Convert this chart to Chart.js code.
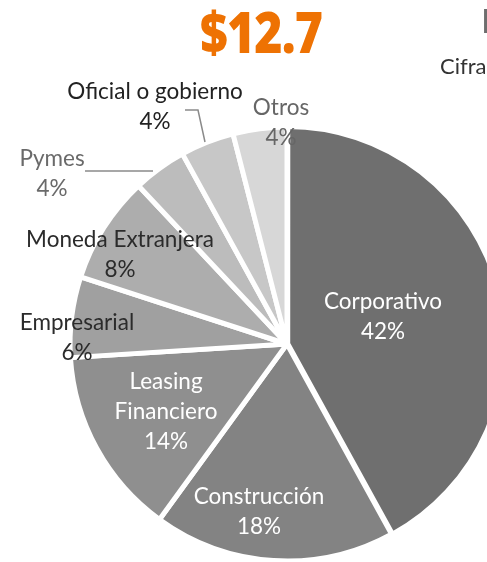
<!DOCTYPE html>
<html>
<head>
<meta charset="utf-8">
<script src="https://cdn.jsdelivr.net/npm/chart.js@4.4.1/dist/chart.umd.min.js"></script>
<style>
  html, body { margin: 0; padding: 0; background: #ffffff; }
  body { width: 487px; height: 562px; overflow: hidden; position: relative; font-family: Lato, "Open Sans", sans-serif; }
  #chart { position: absolute; left: 0; top: 0; }
  .title { position: absolute; left: 200px; top: 0px; font-family: "Open Sans", Lato, sans-serif; font-weight: 800; font-size: 56px; color: #ee7203; transform: scaleX(0.86); transform-origin: left top; line-height: 62px; letter-spacing: -1px; white-space: nowrap; }
  .head2 { position: absolute; left: 481px; top: 0px; font-family: "Open Sans", sans-serif; font-weight: 700; font-size: 34px; color: #6e6e6e; white-space: nowrap; line-height: 40px; }
  .sub { position: absolute; left: 440px; top: 52px; font-family: Lato, sans-serif; font-size: 22px; color: #333; white-space: nowrap; }
</style>
</head>
<body>
<canvas id="chart" width="574" height="688"></canvas>
<div class="title">$12.7</div>
<div class="head2">Participación</div>
<div class="sub">Cifras</div>
<script>
const categories = ["Corporativo", "Construcción", "Leasing Financiero", "Empresarial", "Moneda Extranjera", "Pymes", "Oficial o gobierno", "Otros"];
const shares = [42, 18, 14, 6, 8, 4, 4, 4];
const sliceColors = ["#6f6f6f", "#838383", "#8f8f8f", "#a0a0a0", "#adadad", "#bcbcbc", "#c7c7c7", "#d7d7d7"];

// label layout (offsets from pie centre), lines, colours
const labelStyle = [
  { lines: ["Corporativo", "42%"], dx: 96, dy: -27, color: "#ffffff" },
  { lines: ["Construcción", "18%"], dx: -28, dy: 168, color: "#ffffff" },
  { lines: ["Leasing", "Financiero", "14%"], dx: -121, dy: 68, color: "#ffffff" },
  { lines: ["Empresarial", "6%"], dx: -210, dy: -6, color: "#2b2b2b" },
  { lines: ["Moneda Extranjera", "8%"], dx: -167, dy: -89, color: "#2b2b2b" },
  { lines: ["Pymes", "4%"], dx: -235, dy: -170, color: "#6a6a6a", leader: [[-202, -173], [-134, -173]] },
  { lines: ["Oficial o gobierno", "4%"], dx: -132, dy: -237, color: "#222222", leader: [[-102, -234], [-89, -234], [-82, -202]] },
  { lines: ["Otros", "4%"], dx: -6, dy: -221, color: "#666666" }
];

const labelPlugin = {
  id: 'sliceLabels',
  afterDatasetsDraw(chart) {
    const ctx = chart.ctx;
    const meta = chart.getDatasetMeta(0);
    const arc0 = meta.data[0];
    const cx = arc0.x, cy = arc0.y;
    ctx.save();
    ctx.textAlign = 'center';
    ctx.textBaseline = 'middle';
    ctx.font = '22.5px Lato, "Open Sans", sans-serif';
    const lh = 30;
    labelStyle.forEach((ls) => {
      if (ls.leader) {
        ctx.strokeStyle = '#8a8a8a';
        ctx.lineWidth = 1.5;
        ctx.beginPath();
        ls.leader.forEach((p, k) => {
          if (k === 0) ctx.moveTo(cx + p[0], cy + p[1]); else ctx.lineTo(cx + p[0], cy + p[1]);
        });
        ctx.stroke();
      }
      ctx.fillStyle = ls.color;
      const n = ls.lines.length;
      ls.lines.forEach((t, k) => {
        ctx.fillText(t, cx + ls.dx, cy + ls.dy + (k - (n - 1) / 2) * lh);
      });
    });
    ctx.restore();
  }
};

new Chart(document.getElementById('chart'), {
  type: 'pie',
  data: {
    labels: categories,
    datasets: [{
      data: shares,
      backgroundColor: sliceColors,
      borderColor: '#ffffff',
      borderWidth: 5,
      radius: 217,
      offset: [3, 0, 0, 0, 0, 0, 0, 0]
    }]
  },
  options: {
    responsive: false,
    animation: false,
    layout: { padding: 0 },
    plugins: { legend: { display: false }, tooltip: { enabled: false } }
  },
  plugins: [labelPlugin]
});
</script>
</body>
</html>
